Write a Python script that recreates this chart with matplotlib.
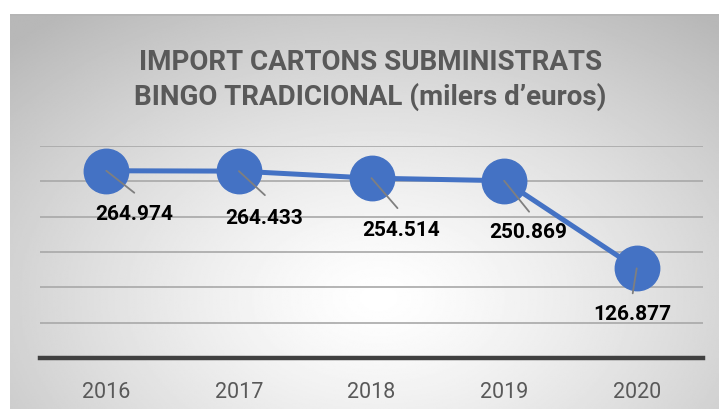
import matplotlib.pyplot as plt
import numpy as np

# dades
years = ["2016", "2017", "2018", "2019", "2020"]
amounts = [264974, 264433, 254514, 250869, 126877]
amount_labels = ["264.974", "264.433", "254.514", "250.869", "126.877"]

TITLE = "IMPORT CARTONS SUBMINISTRATS\nBINGO TRADICIONAL (milers d\u2019euros)"

# estil
W, H = 719, 410
LINE_COLOR = "#4472C4"
TEXT_GREY = "#595959"
label_offsets = [(28, -43), (25, -46), (30, -51), (24, -51), (-4, -45)]
leader_offsets = [(28, -22), (26, -24), (26, -30), (25, -31), (-4, -25)]

plt.rcParams['font.family'] = ['Roboto', 'DejaVu Sans']

fig = plt.figure(figsize=(W / 100, H / 100), dpi=100)
fig.patch.set_facecolor("white")

# fons amb degradat radial
bg = fig.add_axes([10 / W, 0, 1 - 10 / W, (H - 15) / H])
gx, gy = np.meshgrid(np.linspace(0, 1, 400), np.linspace(0, 1, 300))
dist = np.sqrt(((gx - 0.52) / 0.75) ** 2 + ((gy - 0.72) / 0.9) ** 2)
shade = 1 - 0.28 * np.clip(dist, 0, 1) ** 1.3
bg.imshow(shade, cmap="gray", vmin=0, vmax=1, aspect="auto",
          extent=[0, 1, 0, 1], origin="upper")
bg.set_xlim(0, 1)
bg.set_ylim(0, 1)
bg.axis("off")
bg.axhline(1, color="#b5b5b5", lw=2)

ax = fig.add_axes([40 / W, 51 / H, (703 - 40) / W, (359 - 147) / H])
ax.patch.set_alpha(0)
x = np.arange(len(years))
ax.set_xlim(-0.5, len(years) - 0.5)
ax.set_ylim(0, 300000)
ax.set_yticks(np.arange(50000, 300001, 50000))
ax.grid(axis="y", color="#a8a8a8", lw=1.2)
ax.set_axisbelow(True)
for side in ["top", "right", "left"]:
    ax.spines[side].set_visible(False)
ax.spines["bottom"].set_color("#404040")
ax.spines["bottom"].set_linewidth(3.2)
ax.tick_params(axis="y", left=False, labelleft=False)
ax.tick_params(axis="x", bottom=False, pad=13, labelsize=15.5, labelcolor=TEXT_GREY)
ax.set_xticks(x)
ax.set_xticklabels(years)

ax.plot(x, amounts, color=LINE_COLOR, lw=3.6, marker="o", markersize=32,
        markerfacecolor=LINE_COLOR, markeredgecolor=LINE_COLOR, zorder=3,
        clip_on=False)

for xi, val, lab, loff, leoff in zip(x, amounts, amount_labels,
                                     label_offsets, leader_offsets):
    ax.annotate("", xy=(xi, val), xytext=leoff, textcoords="offset pixels",
                arrowprops=dict(arrowstyle="-", color="#7f7f7f", lw=1.3,
                                shrinkA=0, shrinkB=0), zorder=4)
    ax.annotate(lab, xy=(xi, val), xytext=loff, textcoords="offset pixels",
                ha="center", va="center", fontsize=15, fontweight="bold",
                color="black", zorder=5)

fig.text(0.5 + 11 / W, 1 - 80 / H, TITLE, ha="center", va="center",
         fontsize=20, fontweight="bold", color=TEXT_GREY, linespacing=1.3)

fig.savefig("out.png", dpi=100)
